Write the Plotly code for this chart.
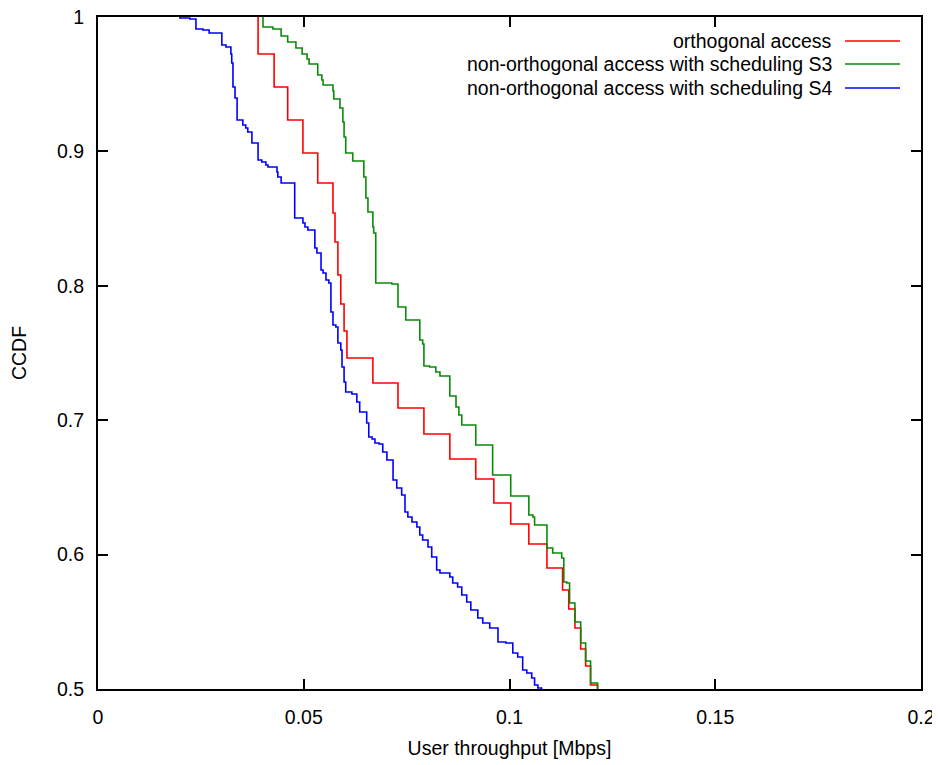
import plotly.graph_objects as go

# ---- data (throughput in Mbps, CCDF after each step) ----
orth_x = [0.0389, 0.0428, 0.0461, 0.0498, 0.0534, 0.0571, 0.0576, 0.0583, 0.0590, 0.0598,
          0.0605, 0.0668, 0.0729, 0.0792, 0.0855, 0.0918, 0.0962, 0.1003, 0.1047, 0.1091,
          0.1129, 0.1144, 0.1159, 0.1173, 0.1185, 0.1197, 0.1214]
orth_y = [0.9725, 0.9479, 0.9234, 0.8988, 0.8765, 0.8542, 0.8326, 0.8080, 0.7865, 0.7664,
          0.7463, 0.7277, 0.7091, 0.6897, 0.6711, 0.6563, 0.6384, 0.6228, 0.6079, 0.5900,
          0.5737, 0.5595, 0.5454, 0.5298, 0.5171, 0.5030, 0.4900]

s3_x = [0.0401, 0.0425, 0.0445, 0.0461, 0.0481, 0.0496, 0.0508, 0.0513, 0.0534, 0.0544,
        0.0547, 0.0571, 0.0573, 0.0588, 0.0595, 0.0598, 0.0602, 0.0619, 0.0646, 0.0651,
        0.0656, 0.0668, 0.0670, 0.0675, 0.0714, 0.0729, 0.0748, 0.0782, 0.0789, 0.0792,
        0.0806, 0.0821, 0.0831, 0.0855, 0.0870, 0.0877, 0.0884, 0.0918, 0.0959, 0.1003,
        0.1047, 0.1057, 0.1061, 0.1091, 0.1105, 0.1127, 0.1132, 0.1139, 0.1146, 0.1159,
        0.1173, 0.1185, 0.1197, 0.1214]
s3_y = [0.9926, 0.9911, 0.9859, 0.9814, 0.9769, 0.9725, 0.9688, 0.9650, 0.9568, 0.9531,
        0.9494, 0.9449, 0.9390, 0.9323, 0.9219, 0.9107, 0.8988, 0.8929, 0.8810, 0.8653,
        0.8549, 0.8438, 0.8393, 0.8021, 0.8013, 0.7842, 0.7746, 0.7597, 0.7567, 0.7403,
        0.7396, 0.7359, 0.7329, 0.7180, 0.7098, 0.7039, 0.6964, 0.6815, 0.6592, 0.6436,
        0.6295, 0.6280, 0.6220, 0.6049, 0.6012, 0.5975, 0.5796, 0.5789, 0.5640, 0.5499,
        0.5342, 0.5208, 0.5045, 0.4900]

s4_x = [0.0199, 0.0223, 0.0238, 0.0255, 0.0270, 0.0301, 0.0311, 0.0323, 0.0325, 0.0328,
        0.0333, 0.0338, 0.0352, 0.0359, 0.0364, 0.0374, 0.0389, 0.0398, 0.0408, 0.0413,
        0.0435, 0.0437, 0.0445, 0.0478, 0.0498, 0.0503, 0.0510, 0.0527, 0.0532, 0.0542,
        0.0547, 0.0554, 0.0561, 0.0566, 0.0571, 0.0578, 0.0583, 0.0590, 0.0593, 0.0598,
        0.0602, 0.0617, 0.0629, 0.0636, 0.0653, 0.0658, 0.0666, 0.0673, 0.0683, 0.0692,
        0.0702, 0.0717, 0.0726, 0.0738, 0.0746, 0.0753, 0.0763, 0.0775, 0.0782, 0.0789,
        0.0802, 0.0811, 0.0823, 0.0831, 0.0855, 0.0862, 0.0874, 0.0884, 0.0896, 0.0906,
        0.0923, 0.0935, 0.0952, 0.0972, 0.0991, 0.1008, 0.1020, 0.1032, 0.1042, 0.1054,
        0.1061, 0.1069, 0.1078]
s4_y = [0.9993, 0.9985, 0.9911, 0.9903, 0.9881, 0.9792, 0.9777, 0.9725, 0.9658, 0.9479,
        0.9397, 0.9234, 0.9196, 0.9174, 0.9144, 0.9063, 0.8936, 0.8921, 0.8899, 0.8884,
        0.8847, 0.8810, 0.8765, 0.8504, 0.8467, 0.8438, 0.8415, 0.8281, 0.8244, 0.8118,
        0.8095, 0.8043, 0.8021, 0.7805, 0.7708, 0.7693, 0.7574, 0.7522, 0.7396, 0.7284,
        0.7210, 0.7195, 0.7135, 0.7061, 0.6979, 0.6875, 0.6860, 0.6830, 0.6823, 0.6763,
        0.6704, 0.6555, 0.6496, 0.6443, 0.6317, 0.6280, 0.6243, 0.6205, 0.6146, 0.6109,
        0.6057, 0.5982, 0.5885, 0.5863, 0.5833, 0.5789, 0.5759, 0.5699, 0.5647, 0.5588,
        0.5528, 0.5491, 0.5454, 0.5350, 0.5342, 0.5268, 0.5238, 0.5141, 0.5119, 0.5082,
        0.5030, 0.5007, 0.4900]

series_names = ["orthogonal access",
                "non-orthogonal access with scheduling S3",
                "non-orthogonal access with scheduling S4"]
series_colors = ["#ff0000", "#0a8a0a", "#0000ff"]

x_ticks = [0, 0.05, 0.1, 0.15, 0.2]
x_tick_labels = ["0", "0.05", "0.1", "0.15", "0.2"]
y_ticks = [0.5, 0.6, 0.7, 0.8, 0.9, 1.0]
y_tick_labels = ["0.5", "0.6", "0.7", "0.8", "0.9", "1"]

FONT = "Liberation Sans, Arial, sans-serif"
FS = 19.5

fig = go.Figure()
for xs, ys, name, col in zip([orth_x, s3_x, s4_x], [orth_y, s3_y, s4_y],
                             series_names, series_colors):
    fig.add_trace(go.Scatter(
        x=[xs[0]] + xs, y=[1.0] + ys, mode="lines", name=name,
        line=dict(color=col, width=1.6, shape="hv"), showlegend=False))

# manual legend (text right-aligned, line sample to its right)
leg_y = [0.9643, 0.9301, 0.8943]
for name, col, yy in zip(series_names, series_colors, leg_y):
    fig.add_annotation(x=0.8943, y=yy, xref="paper", yref="paper", text=name,
                       showarrow=False, xanchor="right", yanchor="middle",
                       font=dict(family=FONT, size=FS, color="black"))
    fig.add_shape(type="line", xref="paper", yref="paper", x0=0.9077, x1=0.9745,
                  y0=yy, y1=yy, line=dict(color=col, width=1.6))

axis_common = dict(showgrid=False, zeroline=False, showline=True, linecolor="black",
                   linewidth=2, mirror="ticks", ticks="inside", ticklen=10,
                   tickwidth=1.5, tickcolor="black", ticklabeloverflow="allow",
                   tickfont=dict(family=FONT, size=FS, color="black"))

fig.update_xaxes(range=[0, 0.2], tickvals=x_ticks, ticktext=x_tick_labels,
                 ticklabelstandoff=10,
                 title=dict(text="User throughput [Mbps]", standoff=14,
                            font=dict(family=FONT, size=FS, color="black")),
                 **axis_common)
fig.update_yaxes(range=[0.5, 1.0], tickvals=y_ticks, ticktext=y_tick_labels,
                 ticklabelstandoff=8,
                 title=dict(text="CCDF", standoff=26,
                            font=dict(family=FONT, size=FS, color="black")),
                 **axis_common)

# page body has an 8px margin, so the figure is sized/offset to land the plot
# area at the reference position inside the 940x765 window
fig.update_layout(width=932, height=757, plot_bgcolor="white", paper_bgcolor="white",
                  margin=dict(l=90, r=19, t=9, b=76, autoexpand=False),
                  font=dict(family=FONT, size=FS, color="black"))

fig.write_html("out.html")
